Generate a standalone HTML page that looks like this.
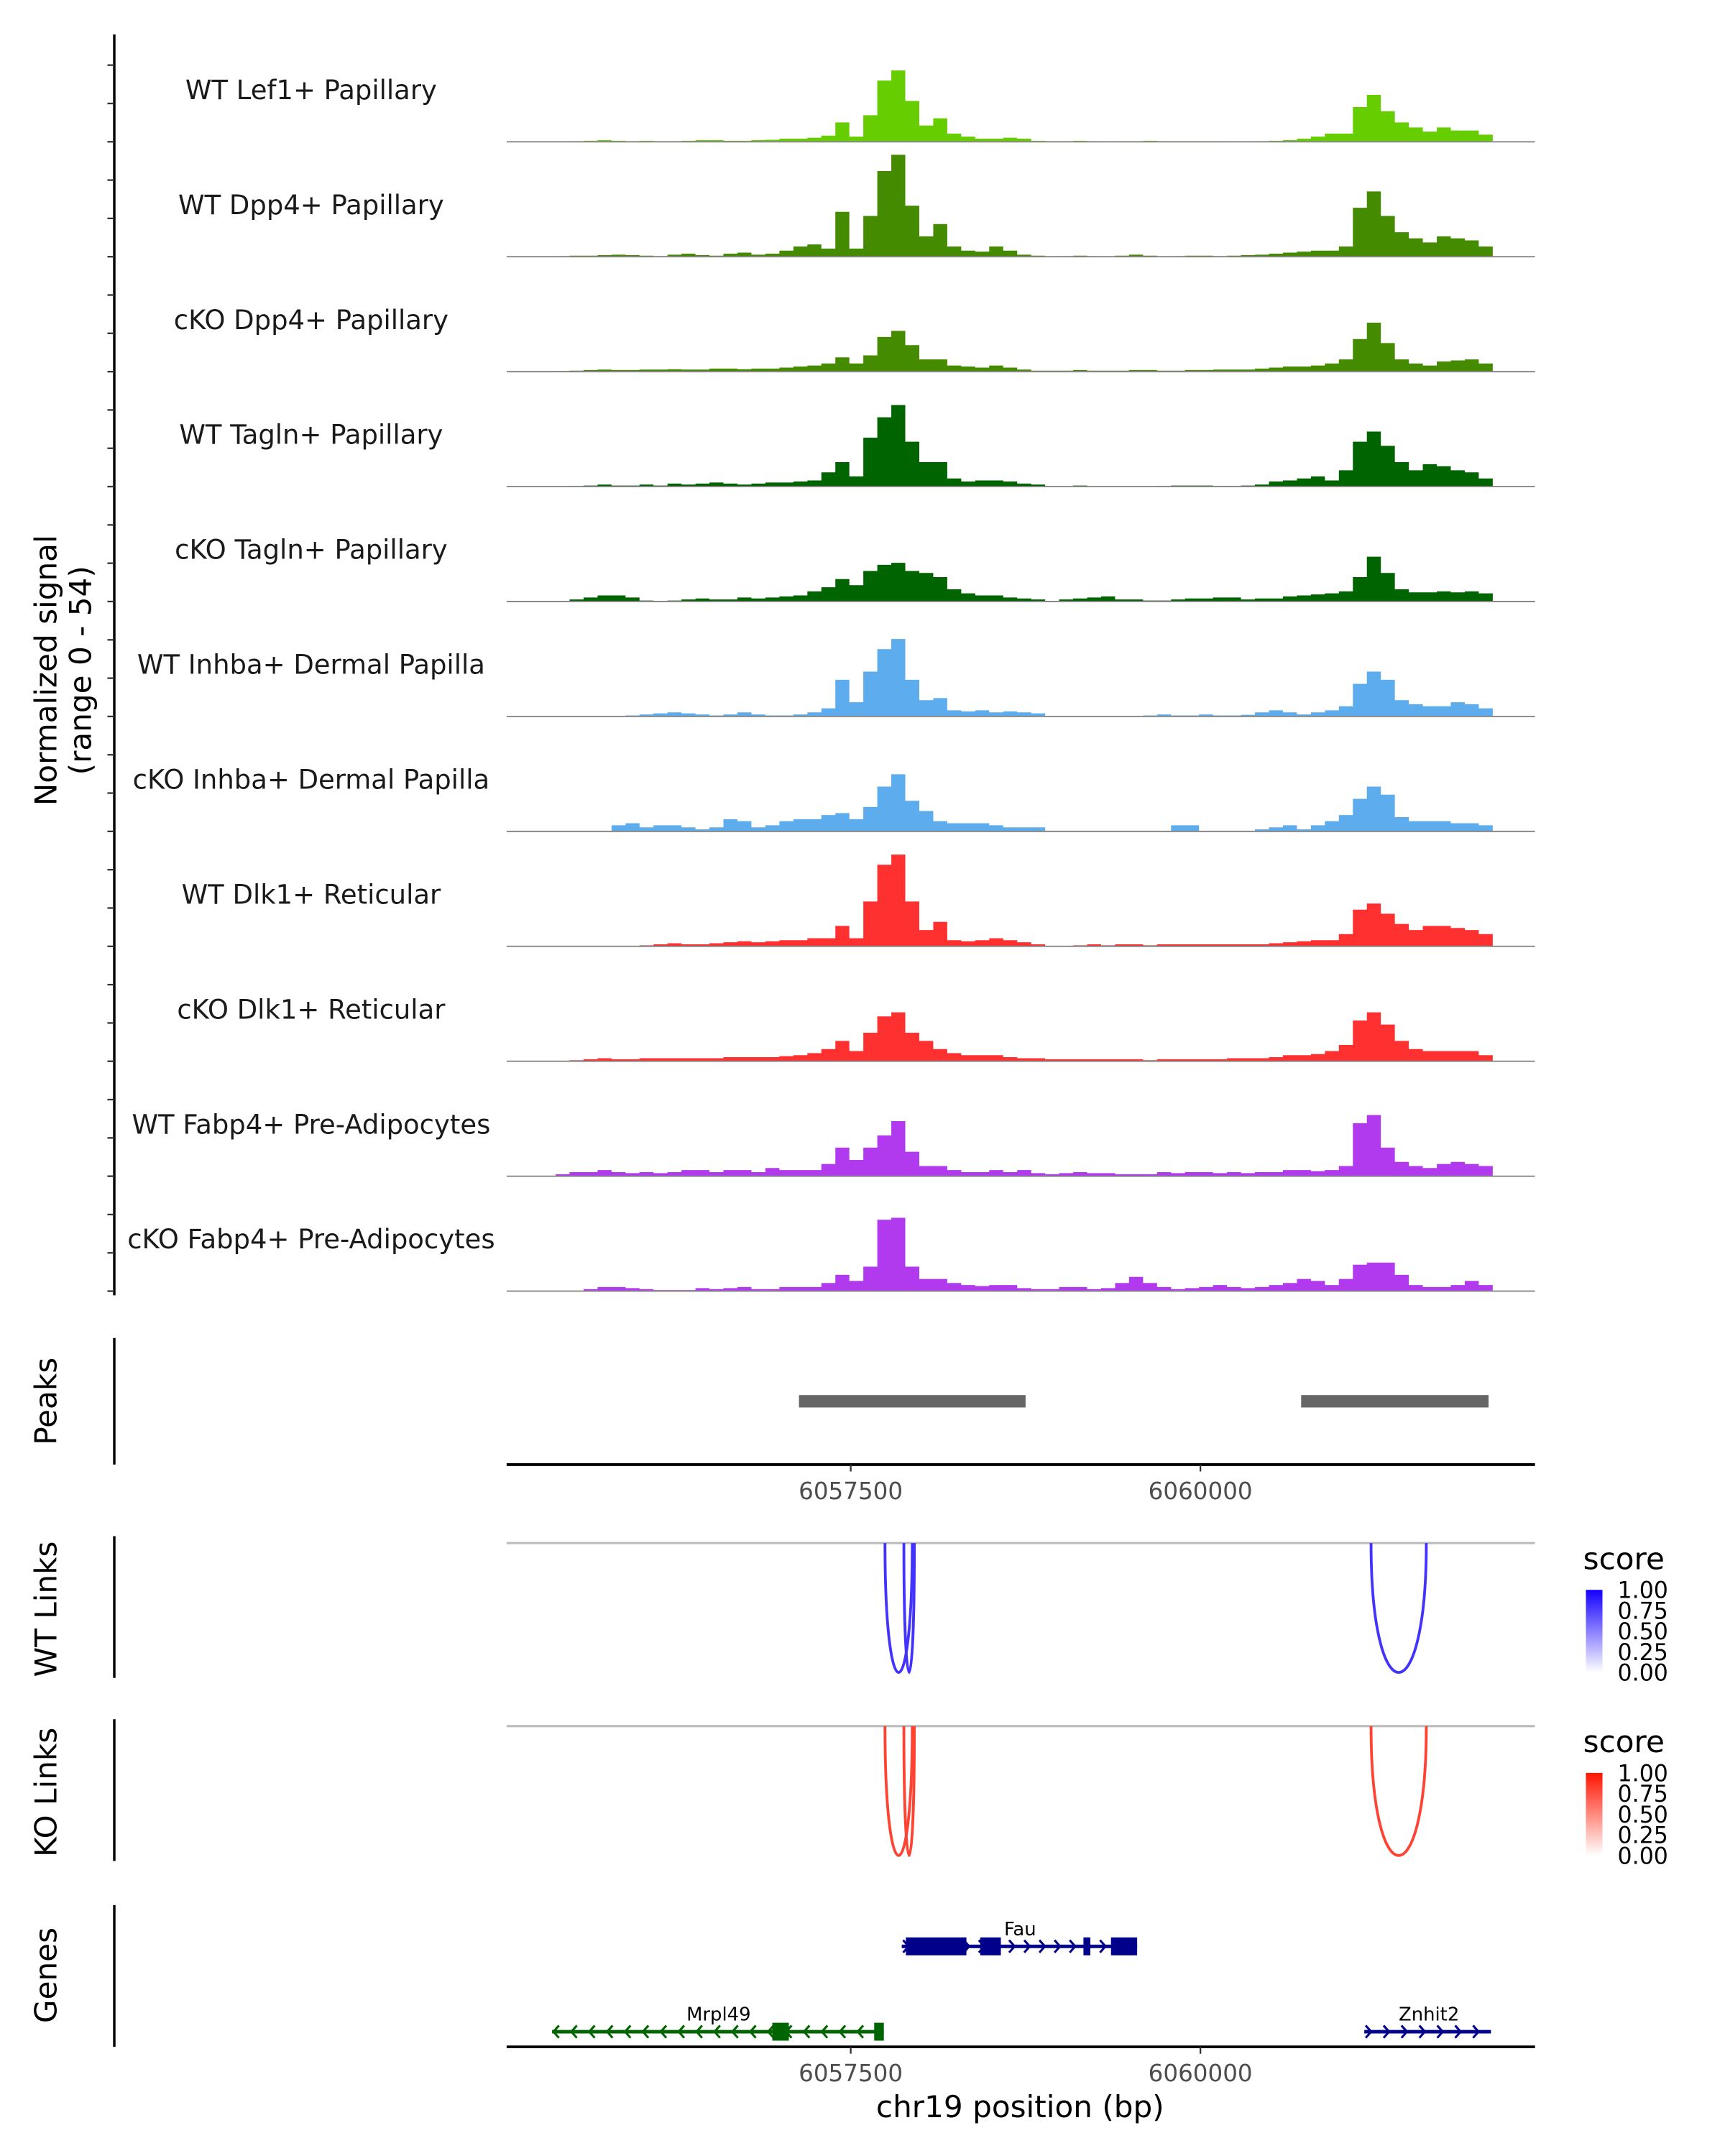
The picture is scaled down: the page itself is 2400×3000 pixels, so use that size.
<!DOCTYPE html>
<html><head><meta charset="utf-8"><style>
html,body{margin:0;padding:0;background:#fff}
svg{display:block}
text{font-family:"DejaVu Sans","Liberation Sans",sans-serif}
</style></head><body>
<svg id="chart" xmlns="http://www.w3.org/2000/svg" width="2400" height="3000" viewBox="0 0 1253 1566.3">
<rect width="1253" height="1566.3" fill="#fff"/>
<g id="g"></g>
</svg>
<script>
// ---- data ----
const binStart = 6055290;
const binSize = 100;
const trackNames = ["WT Lef1+ Papillary","WT Dpp4+ Papillary","cKO Dpp4+ Papillary","WT Tagln+ Papillary","cKO Tagln+ Papillary","WT Inhba+ Dermal Papilla","cKO Inhba+ Dermal Papilla","WT Dlk1+ Reticular","cKO Dlk1+ Reticular","WT Fabp4+ Pre-Adipocytes","cKO Fabp4+ Pre-Adipocytes"];
const trackColors = ["#66CD00","#458B00","#458B00","#006400","#006400","#5CACEE","#5CACEE","#FF3030","#FF3030","#B23AEE","#B23AEE"];
const sigLef1WT = [0,0,0.3,0.5,0.8,0.5,0.3,0.5,0.3,0.3,0.5,0.8,0.8,0.5,0.5,0.8,1,1.5,1.5,2,3,9.5,2.5,13,30,35,20,8,11.5,4,2.5,1.5,1.5,2,1.5,0.5,0.3,0.3,0.5,0.3,0,0.3,0.3,0.5,0.3,0.3,0.3,0.3,0.3,0,0,0.3,0.5,0.8,1.5,2.5,4,4,17,23,15,9.5,7,5,7,5.5,5.5,3.5];
const sigDpp4WT = [0,0.3,0.5,0.5,0.8,1,0.8,0.5,0.3,1,1.5,0.8,0.5,1.5,2,1,1.5,3,5,6,4,22,4,20,42,50,25,10,16,5,3,2.5,5,3,1,0.5,0,0.3,0.5,0.3,0,0.5,1,0.5,0,0.3,0.5,0.5,0.3,0.5,0.8,1,1.5,2,2.5,3,3,5,24,32,20,12,9,7,10,9,8,5];
const sigDpp4KO = [0,0.3,0.5,0.8,1,0.8,0.8,1,1,1.2,1,1,1.5,1.5,1.2,1.5,1.5,2,2.5,3,4,7,4,8,17,20,13,6,6,3,2.5,2,3,2,1,0.5,0.5,0.5,0.8,0.5,0.5,0.5,0.8,0.8,0.5,0.5,0.8,0.8,1,1,1,1.5,2,2.5,2.5,3,4,6,16,24,14,6,4,3,5,5.5,6,4];
const sigTaglnWT = [0,0,0.3,0.5,1,0.5,0.5,1,0.5,1.5,1,1.5,2,1.5,1,1.5,2,2,2.5,3,7,12,5,24,34,40,22,12,12,4,2.5,3,3,2.5,1.5,1,0,0,0.5,0,0,0,0,0,0.3,0.5,0.5,0.5,0.3,0.3,0.5,1,2.5,3,4,5,3,8,22,27,20,12,8,11,10,8,7,4];
const sigTaglnKO = [0,0,1,2,3,3,2,0.5,0,0.5,1,1.5,1,1,2,1.5,2,2.5,3,5,7,11,8,15,18,19,15,14,12,6,4,3,3,2,1.5,1,0,1,1.5,2,2.5,1,1,0.5,0.5,1,1.5,1.5,2,2,1,1.5,1.5,2.5,3,3.5,4,5,12,22,14,6,4.5,4.5,5,4.5,5,4];
const sigInhbaWT = [0,0,0,0,0,0,0.5,1,1.5,2,1.5,1,0.5,1,2,1,0.5,0.5,1,2,4,18,7,22,33,38,18,8,9,3,2.5,3,2,2.5,2,1.5,0,0,0,0,0,0,0,0.5,1,0.5,0.5,1,0.5,0.5,0.8,2,3,2,1,2,3,5,16,22,18,8,6,5,5,7,6,4];
const sigInhbaKO = [0,0,0,0,0,3,4,2,3,3,2,1,2,6,5,2,3,5,6,6,8,9,6,12,22,28,15,10,5,4,4,4,3,2,2,2,0,0,0,0,0,0,0,0,0,3,3,0,0,0,0,1,2,3,1,3,5,8,16,22,18,7,5,5,5,4,4,3];
const sigDlk1WT = [0,0,0,0,0,0,0,0.5,1,1.5,1,1,1.5,2,2.5,2,2.5,3,3,4,4,10,4,22,40,45,22,8,12,3,2.5,3,4,3,2,1,0,0,0.5,1,0.5,1,1,0.5,1,1,1,1,1,1,1,1,1.5,2,2.5,3,3,6,18,21,16,11,8,10,10,9,8,6];
const sigDlk1KO = [0,0,0.5,1,1.5,1,1,1.5,1.5,1.5,1.5,1.5,1.5,2,2,2,2,2.5,3,4,6,10,5,14,22,24,14,10,6,4,3,3,3,2,1.5,1.5,1,1,1,1,1,1,1,0.5,1,1,1,1,1,1.5,1.5,1.5,2,3,3,3.5,5,8,20,24,18,10,6,5,5,5,5,3];
const sigFabp4WT = [0,1,2,2,3,2,1.5,2,1.5,2,3,3,2,3,3,2,4,3,3,3,6,14,8,14,20,27,12,5,5,3,2,2,3,2,3,1.5,1,1.5,2,1.5,1.5,1,1,1,2,1.5,2,2,1.5,2,1.5,2,2,3,3,2.5,3,5,26,30,14,7,5,4,6,7,6,5];
const sigFabp4KO = [0,0,0,1,2,2,1.5,1,0.5,0.5,0.5,1.5,1,1.5,2,1,1,2,2,2,4,8,5,12,35,36,12,6,6,4,3,2.5,3,3,1.5,1,1,2,2,1,1.5,4,7,4,2,1,1.5,2,3,2,1.5,2,3,4,6,5,3,6,13,14,14,8,3,2,2,3,5,3];
const signals = [sigLef1WT,sigDpp4WT,sigDpp4KO,sigTaglnWT,sigTaglnKO,sigInhbaWT,sigInhbaKO,sigDlk1WT,sigDlk1KO,sigFabp4WT,sigFabp4KO];
const yMax = 54;
const peakStarts = [6057130, 6060720];
const peakEnds = [6058750, 6062060];
const xTicks = [6057500, 6060000];
const wtLinkStarts = [6057745, 6057880, 6061220];
const wtLinkEnds = [6057940, 6057955, 6061615];
const wtLinkScores = [0.8, 0.8, 0.8];
const koLinkStarts = [6057745, 6057880, 6061220];
const koLinkEnds = [6057940, 6057955, 6061615];
const koLinkScores = [0.8, 0.8, 0.8];
const legendTicks = ["1.00","0.75","0.50","0.25","0.00"];

// ---- scales ----
const X0 = 368, X1 = 1115, D0 = 6055040, D1 = 6062392;
function xs(bp){ return X0 + (bp - D0) * (X1 - X0) / (D1 - D0); }
const trackH = 80, baseY0 = 103, trackStep = 83.5;
function ys(v, base){ return base - v / yMax * trackH; }

const NS = "http://www.w3.org/2000/svg";
const G = document.getElementById('g');
function el(tag, attrs, parent){
  const e = document.createElementNS(NS, tag);
  for (const k in attrs) e.setAttribute(k, attrs[k]);
  (parent || G).appendChild(e); return e;
}
function txt(s, attrs, parent){ const t = el('text', attrs, parent); t.textContent = s; return t; }

let e;
e = el('line',{x1:83,y1:25,x2:83,y2:941,stroke:'#000','stroke-width':1.8});


for (let i=0;i<trackNames.length;i++){
  const base = baseY0 + i*trackStep;
  for (let k=0;k<3;k++){
    const ty = base - k*trackStep/3;
    e = el('line',{x1:78,y1:ty,x2:83,y2:ty,stroke:'#333','stroke-width':1.2});
    
    
  }
}
e = txt('Normalized signal',{x:0,y:0,'font-size':22,'text-anchor':'middle',fill:'#000',transform:'translate(41,487) rotate(-90)'});


e = txt('(range 0 - 54)',{x:0,y:0,'font-size':22,'text-anchor':'middle',fill:'#000',transform:'translate(66,487) rotate(-90)'});



for (let i=0;i<trackNames.length;i++){
  const base = baseY0 + i*trackStep;
  const arr = signals[i];
  let d = 'M'+xs(binStart)+','+base;
  for (let j=0;j<arr.length;j++){
    const xa = xs(binStart + j*binSize), xb = xs(binStart + (j+1)*binSize);
    const y = ys(arr[j], base);
    d += ' L'+xa+','+y+' L'+xb+','+y;
  }
  d += ' L'+xs(binStart + arr.length*binSize)+','+base+' Z';
  e = el('path',{d:d,fill:trackColors[i]});
  
  
  e = el('line',{x1:X0,y1:base,x2:X1,y2:base,stroke:'#888','stroke-width':1});
  
  
  e = txt(trackNames[i],{x:226,y:base-31,'font-size':19.3,'text-anchor':'middle',fill:'#1a1a1a'});
  
  
}

e = el('line',{x1:83,y1:972,x2:83,y2:1064,stroke:'#000','stroke-width':1.8});


e = txt('Peaks',{x:0,y:0,'font-size':22,'text-anchor':'middle',fill:'#000',transform:'translate(41,1018) rotate(-90)'});


for (let i=0;i<peakStarts.length;i++){
  e = el('rect',{x:xs(peakStarts[i]),y:1013.5,width:xs(peakEnds[i])-xs(peakStarts[i]),height:9,fill:'#666'});
  
  
}
function xAxis(y, name){
  e = el('line',{x1:X0,y1:y,x2:X1,y2:y,stroke:'#000','stroke-width':2});
  
  
  for (const t of xTicks){
    e = el('line',{x1:xs(t),y1:y,x2:xs(t),y2:y+5,stroke:'#333','stroke-width':1.2});
    
    
    e = txt(String(t),{x:xs(t),y:y+25,'font-size':17,'text-anchor':'middle',fill:'#4d4d4d'});
    
    
  }
}
xAxis(1064,'peaks-x-axis');

function linkPanel(top, title, starts, ends, scores, rgb, gradId){
  e = el('line',{x1:83,y1:top-5,x2:83,y2:top+98,stroke:'#000','stroke-width':1.8});
  
  
  e = txt(title,{x:0,y:0,'font-size':22,'text-anchor':'middle',fill:'#000',transform:'translate(41,'+(top+48)+') rotate(-90)'});
  
  
  e = el('line',{x1:X0,y1:top,x2:X1,y2:top,stroke:'#bbb','stroke-width':1.6});
  
  
  const depth = 94;
  for (let i=0;i<starts.length;i++){
    const a = xs(starts[i]), b = xs(ends[i]);
    const s = scores[i];
    const col = 'rgb('+rgb.map(c=>Math.round(255-(255-c)*s)).join(',')+')';
    const cy = top + depth*4/3;
    e = el('path',{d:'M'+a+','+top+' C'+a+','+cy+' '+b+','+cy+' '+b+','+top,fill:'none',stroke:col,'stroke-width':2});
    
    
  }
  const defs = el('defs',{});
  const lg = el('linearGradient',{id:gradId,x1:0,y1:1,x2:0,y2:0},defs);
  el('stop',{offset:'0','stop-color':'#fff'},lg);
  el('stop',{offset:'1','stop-color':'rgb('+rgb.join(',')+')'},lg);
  e = txt('score',{x:1150,y:top+19,'font-size':22,fill:'#000'});
  
  
  e = el('rect',{x:1152,y:top+34,width:12,height:60,fill:'url(#'+gradId+')'});
  
  
  for (let k=0;k<legendTicks.length;k++){
    const ty = top+34 + k*15;
    e = txt(legendTicks[k],{x:1175,y:ty+6,'font-size':16.5,fill:'#000'});
    
    
  }
}
linkPanel(1121,'WT Links',wtLinkStarts,wtLinkEnds,wtLinkScores,[20,0,255],'gb');
linkPanel(1254,'KO Links',koLinkStarts,koLinkEnds,koLinkScores,[255,20,0],'gr');

e = el('line',{x1:83,y1:1384,x2:83,y2:1487,stroke:'#000','stroke-width':1.8});


e = txt('Genes',{x:0,y:0,'font-size':22,'text-anchor':'middle',fill:'#000',transform:'translate(41,1435) rotate(-90)'});


function gene(name, x0, x1, y, exons, dir, col, labelX, step){
  e = el('line',{x1:x0,y1:y,x2:x1,y2:y,stroke:col,'stroke-width':2.5});
  
  
  for (let x = x0+3; x < x1; x += step){
    const p = dir>0 ? 'M'+(x-2)+','+(y-4.5)+' L'+(x+2)+','+y+' L'+(x-2)+','+(y+4.5) : 'M'+(x+2)+','+(y-4.5)+' L'+(x-2)+','+y+' L'+(x+2)+','+(y+4.5);
    e = el('path',{d:p,fill:'none',stroke:col,'stroke-width':1.6});
    
    
  }
  for (const ex of exons){
    e = el('rect',{x:ex[0],y:y-6.5,width:ex[1]-ex[0],height:13,fill:col});
    
    
  }
  e = txt(name,{x:labelX,y:y-8,'font-size':13.5,'text-anchor':'middle',fill:'#000'});
  
  
}
gene('Fau',655,826,1414,[[658,702],[712,727],[787,792],[807,826]],1,'#00008B',741,11);
gene('Mrpl49',401,642,1476,[[561,573],[635,642]],-1,'#006400',522,13);
gene('Znhit2',991,1083,1476,[],1,'#00008B',1038,13);
xAxis(1487,'genes-x-axis');
e = txt('chr19 position (bp)',{x:741,y:1538,'font-size':22,'text-anchor':'middle',fill:'#000'});


</script>
</body></html>
